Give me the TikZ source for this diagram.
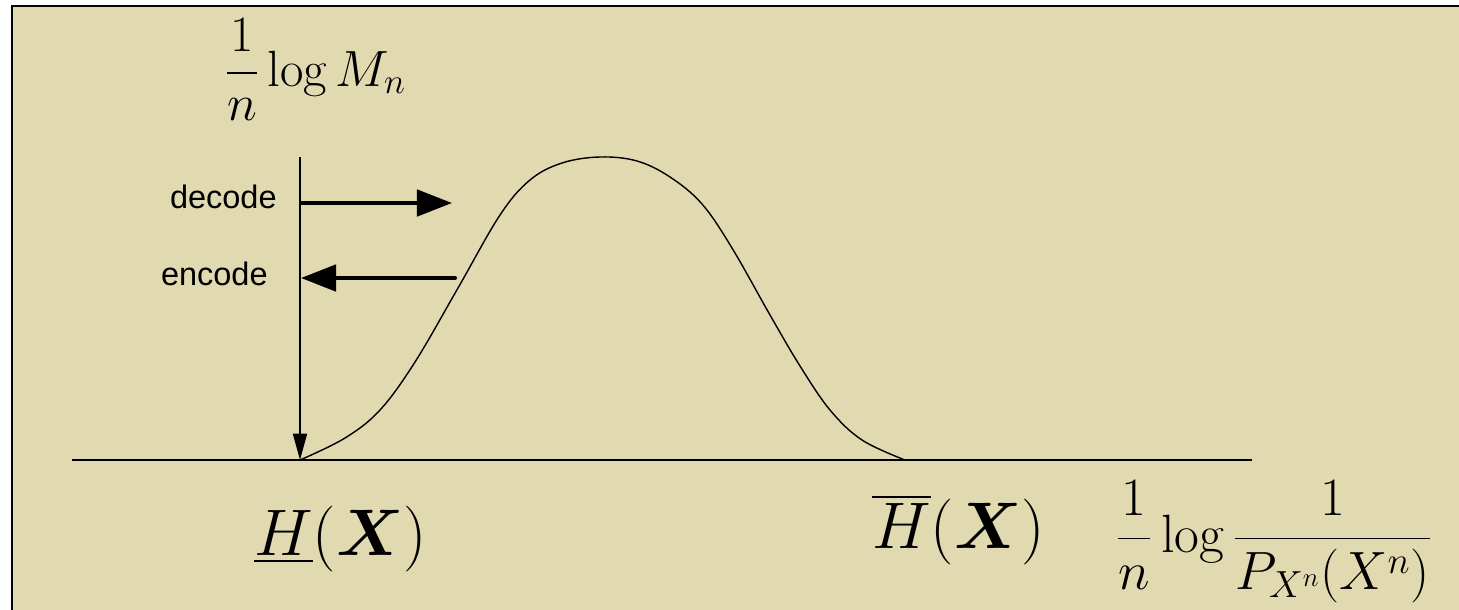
\documentclass[tikz,border=0pt]{standalone}
\usepackage{fix-cm}
\usepackage{amsmath}
\usepackage{fontspec}
\newfontfamily\labelfont{Liberation Sans}
\usetikzlibrary{arrows.meta}
\definecolor{paper}{RGB}{225,217,176}
\tikzset{
  codearrow/.style={line width=2.3pt, -{Triangle[length=20pt,width=15pt]}},
  codetext/.style={font=\labelfont\fontsize{18.5}{22}\selectfont, anchor=base east, inner sep=0pt},
  bigmath/.style={font=\fontsize{37.5}{44}\selectfont, anchor=base west, inner sep=0pt},
  axismath/.style={anchor=base west, inner sep=0pt}
}
\begin{document}
\begin{tikzpicture}[x=0.02cm, y=-0.02cm, >=stealth]
  \useasboundingbox (0,0) rectangle (1459,609);
  \fill[paper] (12,6) rectangle (1480,630);
  \draw[line width=1.7pt] (1480,6) -- (12,6) -- (12,630);
  % axes
  \coordinate (xl) at (72,460);
  \coordinate (xr) at (1252,460);
  \coordinate (lo) at (300,460);
  \coordinate (hi) at (905,460);
  \coordinate (ytop) at (300,157);
  \draw[line width=1.1pt] (xl) -- (xr);
  \draw[line width=0.9pt, -{Triangle[length=15pt,width=8pt]}] (ytop) -- (lo);
  % the density
  \draw[line width=0.8pt] plot[smooth, tension=0.6] coordinates {(lo) (345,438) (380,410) (415,362)
    (458,288) (500,215) (530,180) (562,163) (600,157) (637,161) (670,177) (702,204)
    (732,248) (770,315) (800,366) (830,410) (862,440) (hi)};
  % coding arrows
  \coordinate (dec0) at (300,203);
  \coordinate (dec1) at (452,203);
  \coordinate (enc0) at (455,278);
  \coordinate (enc1) at (301,278);
  \draw[codearrow] (dec0) -- (dec1);
  \draw[codearrow, line cap=round] (enc0) -- (enc1);
  \node[codetext] (decode) at (277,208) {decode};
  \node[codetext] (encode) at (268,285) {encode};
  % labels
  \node[axismath, font=\fontsize{29}{34}\selectfont] (rate) at (225,86) {$\displaystyle \frac{1}{n}\log M_n$};
  \node[bigmath] (hlow) at (254,555) {$\underline{H}(\boldsymbol{X})$};
  \node[bigmath] (hup) at (872,548) {$\overline{H}(\boldsymbol{X})$};
  \node[axismath, font=\fontsize{30.7}{36}\selectfont] (info) at (1116,552) {$\displaystyle \frac{1}{n}\log\frac{1}{P_{X^n}(X^n)}$};
\end{tikzpicture}
\end{document}
